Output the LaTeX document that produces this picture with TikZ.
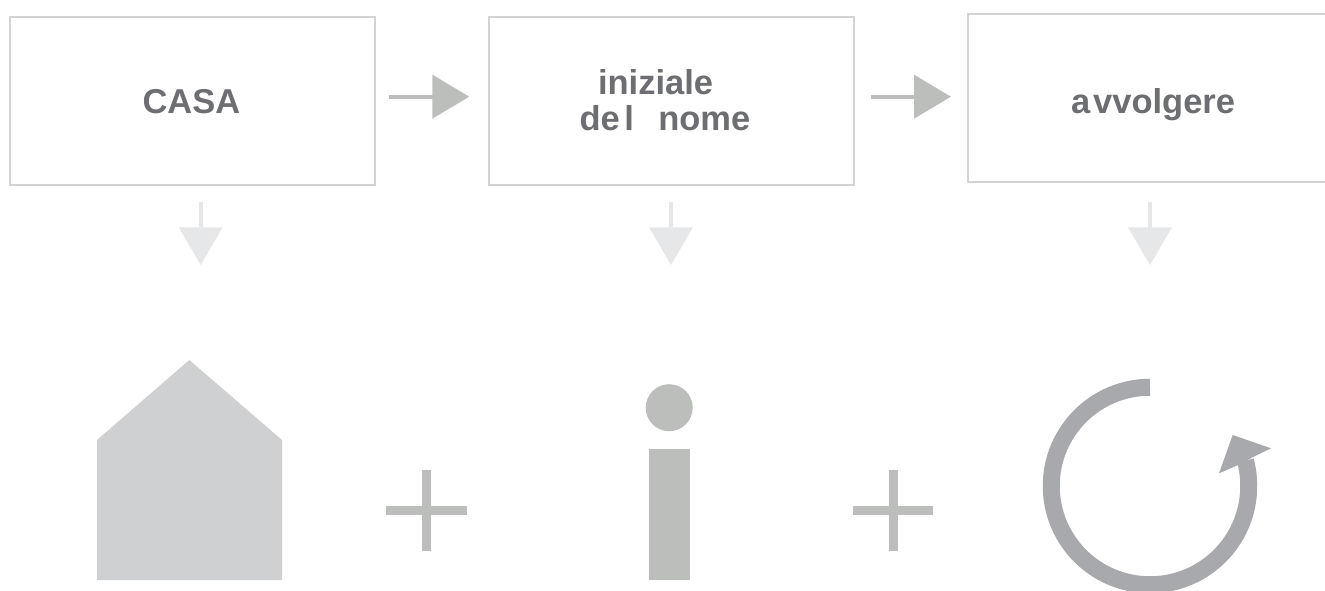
\documentclass[tikz,border=0pt]{standalone}
\usepackage{fontspec}
\usetikzlibrary{arrows.meta}
\setmainfont{Liberation Sans}
\definecolor{txt}{HTML}{6D6E71}
\definecolor{boxline}{HTML}{D1D3D4}
\definecolor{harr}{HTML}{BCBEBC}
\definecolor{varr}{HTML}{E6E7E8}
\definecolor{housec}{HTML}{CFD0D2}
\definecolor{ringc}{HTML}{A7A9AC}
\tikzset{
  x=1pt,y=1pt,
  wordbox/.style={draw=boxline,line width=1.8pt,fill=white,inner sep=0pt,outer sep=0pt,anchor=south west},
  wordtext/.style={text=txt,font=\fontsize{34.5}{40}\selectfont\bfseries,inner sep=0pt,outer sep=0pt,anchor=base west},
  harrow/.style={draw=harr,line width=4.3pt,-{Triangle[length=37pt,width=43pt,color=harr]}},
  varrow/.style={draw=varr,line width=3.6pt,-{Triangle[length=37.7pt,width=43pt,color=varr]}},
  plusbar/.style={fill=harr,draw=none},
}
\begin{document}
\begin{tikzpicture}
\useasboundingbox (0,0) rectangle (1325,590);
\clip (0,0) rectangle (1325,590);
\fill[white] (0,0) rectangle (1325,590);
% word boxes
\node[wordbox,minimum width=364.7pt,minimum height=168pt] (b1) at (10,405.3) {};
\node[wordbox,minimum width=364.7pt,minimum height=168pt] (b2) at (489.3,405.3) {};
\node[wordbox,minimum width=370pt,minimum height=168pt] (b3) at (968,408.3) {};
% words
\node[wordtext] (t1) at (142.5,476.7) {CASA};
\node[wordtext] (t2a) at (598,495) {iniziale};
\node[wordtext] (t2b) at (579.5,459.3) {de\hspace{4.5pt}l\hspace{24.5pt}nome};
\node[wordtext] (t3) at (1071,476.7) {a\hspace{3pt}vvolgere};
% horizontal arrows
\coordinate (h1s) at (389.3,493.3);
\coordinate (h1e) at (469.3,493.3);
\coordinate (h2s) at (871,493.3);
\coordinate (h2e) at (951,493.3);
\draw[harrow] (h1s) -- (h1e);
\draw[harrow] (h2s) -- (h2e);
% vertical arrows
\coordinate (v1s) at (200.7,388);
\coordinate (v1e) at (200.7,325);
\coordinate (v2s) at (671,388);
\coordinate (v2e) at (671,325);
\coordinate (v3s) at (1150,388);
\coordinate (v3e) at (1150,325);
\draw[varrow] (v1s) -- (v1e);
\draw[varrow] (v2s) -- (v2e);
\draw[varrow] (v3s) -- (v3e);
% house
\fill[housec] (97,10) -- (282,10) -- (282,150) -- (189.3,230) -- (97,150) -- cycle;
% plus signs
\fill[plusbar] (421.7,39.3) rectangle (431,120);
\fill[plusbar] (386.3,74.7) rectangle (467,84.3);
\fill[plusbar] (889,39.3) rectangle (898.3,120);
\fill[plusbar] (853,74.7) rectangle (933.3,84.3);
% letter i
\fill[harr] (669.2,182.3) circle[radius=23.5];
\fill[harr] (649,9.7) rectangle (689.7,141);
% ring with arrow
\draw[ringc,line width=17pt] (1150,202.75) arc[start angle=90,end angle=375,radius=98.75];
\fill[ringc] (1232.7,155) -- (1271,141.7) -- (1253.7,133.3) -- (1238.3,125) -- (1219,116.7) -- cycle;
\end{tikzpicture}
\end{document}
